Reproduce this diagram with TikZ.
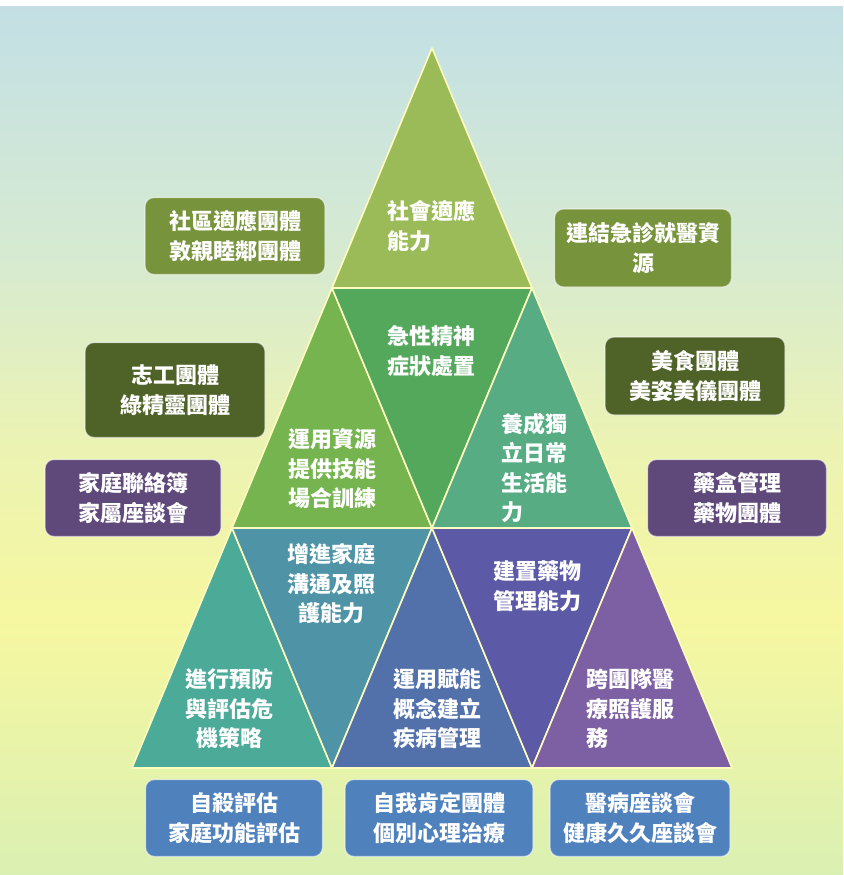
\documentclass[tikz,border=0pt]{standalone}
\usepackage{fontspec}
\newfontfamily\cjk{Noto Sans CJK TC}
\definecolor{bgA}{RGB}{194,223,229}
\definecolor{bgB}{RGB}{214,234,210}
\definecolor{bgC}{RGB}{236,243,178}
\definecolor{bgD}{RGB}{246,247,160}
\definecolor{bgE}{RGB}{218,240,178}
\definecolor{cA}{RGB}{155,187,89}
\definecolor{cB}{RGB}{118,180,80}
\definecolor{cC}{RGB}{84,168,92}
\definecolor{cD}{RGB}{88,172,132}
\definecolor{cE}{RGB}{76,170,152}
\definecolor{cF}{RGB}{79,148,166}
\definecolor{cG}{RGB}{82,112,170}
\definecolor{cH}{RGB}{92,90,166}
\definecolor{cI}{RGB}{125,95,163}
\definecolor{olive}{RGB}{119,147,60}
\definecolor{darkolive}{RGB}{79,98,40}
\definecolor{plum}{RGB}{95,73,122}
\definecolor{steel}{RGB}{79,129,189}
\pgfdeclareverticalshading{bgshade}{100bp}{color(0bp)=(bgE); color(25bp)=(bgE); color(39.6bp)=(bgD); color(49.3bp)=(bgC); color(60.7bp)=(bgB); color(75bp)=(bgA); color(100bp)=(bgA)}
\begin{document}
\begin{tikzpicture}[x=1pt,y=-1pt,
  txt/.style={text=white, font=\cjk\bfseries\fontsize{22}{29.5}\selectfont, inner sep=0pt},
  lbl/.style={txt, align=center},
  lbll/.style={txt, align=left, anchor=west},
  box/.style={txt, align=center, rounded corners=9pt, draw=white, draw opacity=0.55, line width=1.2pt},
  tri/.style={draw=white!75!yellow, line width=1.6pt, line join=round}]
\useasboundingbox (0,0) rectangle (843,875);
\shade[shading=bgshade] (0,0) rectangle (843,875);
\fill[white] (0,0) rectangle (843,6);
% pyramid corners
\coordinate (A) at (432,48);
\coordinate (L1) at (332,288);
\coordinate (R1) at (532,288);
\coordinate (P0) at (232,528);
\coordinate (P1) at (432,528);
\coordinate (P2) at (632,528);
\coordinate (Q0) at (132,768);
\coordinate (Q1) at (332,768);
\coordinate (Q2) at (532,768);
\coordinate (Q3) at (732,768);
% triangles
\filldraw[tri, fill=cA] (A) -- (L1) -- (R1) -- cycle;
\filldraw[tri, fill=cB] (L1) -- (P0) -- (P1) -- cycle;
\filldraw[tri, fill=cC] (L1) -- (R1) -- (P1) -- cycle;
\filldraw[tri, fill=cD] (R1) -- (P1) -- (P2) -- cycle;
\filldraw[tri, fill=cE] (P0) -- (Q0) -- (Q1) -- cycle;
\filldraw[tri, fill=cF] (P0) -- (P1) -- (Q1) -- cycle;
\filldraw[tri, fill=cG] (P1) -- (Q1) -- (Q2) -- cycle;
\filldraw[tri, fill=cH] (P1) -- (P2) -- (Q2) -- cycle;
\filldraw[tri, fill=cI] (P2) -- (Q2) -- (Q3) -- cycle;
% triangle labels
\node[lbll] (t1) at (387,226) {社會適應\\能力};
\node[lbll] (t2) at (387,351) {急性精神\\症狀處置};
\node[lbl] (t3) at (332,469) {運用資源\\提供技能\\場合訓練};
\node[lbll] (t4) at (501,468) {養成獨\\立日常\\生活能\\力};
\node[lbl] (t5) at (331,584) {增進家庭\\溝通及照\\護能力};
\node[lbl] (t6) at (537,586) {建置藥物\\管理能力};
\node[lbl] (t7) at (229,709) {進行預防\\與評估危\\機策略};
\node[lbl] (t8) at (437,709) {運用賦能\\概念建立\\疾病管理};
\node[lbll] (t9) at (586,709) {跨團隊醫\\療照護服\\務};
% boxes
\node[box, fill=olive, minimum width=180pt, minimum height=77pt] (b1) at (235,236) {社區適應團體\\敦親睦鄰團體};
\node[box, fill=olive, minimum width=177pt, minimum height=78pt] (b2) at (643,248) {連結急診就醫資\\源};
\node[box, fill=darkolive, minimum width=180pt, minimum height=95pt] (b3) at (175,390) {志工團體\\綠精靈團體};
\node[box, fill=darkolive, minimum width=180pt, minimum height=78pt] (b4) at (695,376) {美食團體\\美姿美儀團體};
\node[box, fill=plum, minimum width=176pt, minimum height=77pt] (b5) at (133,498) {家庭聯絡簿\\家屬座談會};
\node[box, fill=plum, minimum width=179pt, minimum height=77pt] (b6) at (737,498) {藥盒管理\\藥物團體};
\node[box, fill=steel, minimum width=177pt, minimum height=77pt] (b7) at (234,818) {自殺評估\\家庭功能評估};
\node[box, fill=steel, minimum width=188pt, minimum height=77pt] (b8) at (439,818) {自我肯定團體\\個別心理治療};
\node[box, fill=steel, minimum width=180pt, minimum height=77pt] (b9) at (640,818) {醫病座談會\\健康久久座談會};
\end{tikzpicture}
\end{document}
